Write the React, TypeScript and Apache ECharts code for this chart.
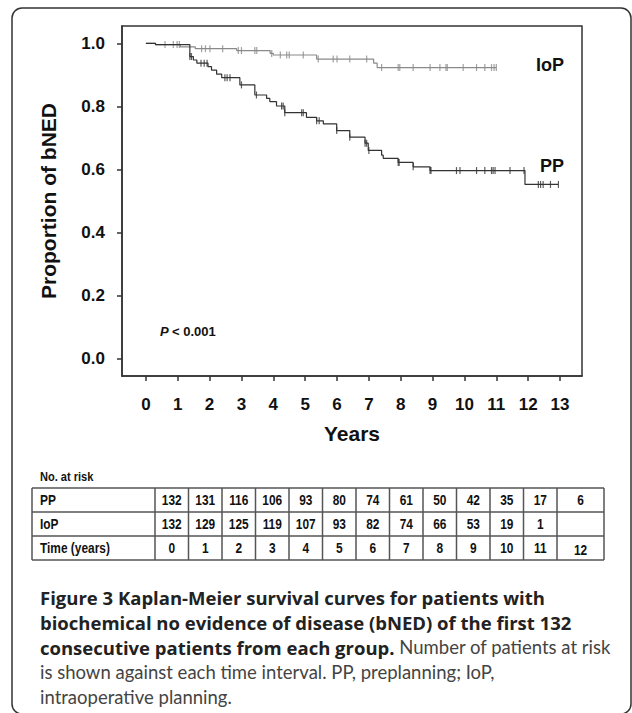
import React, { useEffect, useRef } from "react";
import * as echarts from "echarts";

// Kaplan-Meier step data: [time (years), proportion bNED]
const iopSteps: [number, number][] = [
  [0, 1.0], [0.3, 0.996], [1.08, 0.989], [1.55, 0.983], [2.85, 0.977],
  [3.9, 0.968], [4.0, 0.963], [5.36, 0.95], [7.15, 0.937], [7.26, 0.923], [11.0, 0.923],
];
const ppSteps: [number, number][] = [
  [0, 1.0], [0.3, 0.996], [1.38, 0.958], [1.49, 0.947], [1.6, 0.937], [1.95, 0.926],
  [2.06, 0.915], [2.22, 0.902], [2.38, 0.891], [2.95, 0.868], [3.42, 0.836], [3.79, 0.825],
  [3.89, 0.815], [4.1, 0.801], [4.36, 0.78], [5.04, 0.765], [5.36, 0.754], [5.57, 0.744],
  [5.99, 0.723], [6.4, 0.702], [6.88, 0.683], [6.98, 0.66], [7.4, 0.645], [7.45, 0.635],
  [7.92, 0.622], [8.39, 0.608], [8.92, 0.596], [11.9, 0.552], [12.95, 0.552],
];
// censored observation times
const iopCensor = [0.6, 0.86, 0.98, 1.05, 1.75, 1.87, 2.01, 2.41, 2.9, 3.0, 3.42, 3.48, 3.95, 4.22, 4.42, 4.5, 4.94, 5.41, 5.88, 6.0, 6.4, 6.93, 7.4, 7.92, 7.97, 8.39, 8.92, 9.23, 9.42, 9.46, 9.96, 10.38, 10.64, 10.85, 10.93, 11.0];
const ppCensor = [1.38, 1.43, 1.73, 1.83, 1.92, 2.48, 2.55, 2.64, 3.0, 3.47, 4.26, 4.31, 4.36, 4.89, 4.94, 5.36, 5.44, 5.99, 6.4, 6.88, 6.93, 7.0, 7.92, 7.95, 8.39, 8.92, 8.95, 9.75, 9.86, 10.38, 10.64, 10.85, 10.9, 10.96, 11.43, 11.87, 12.32, 12.39, 12.47, 12.7, 12.95];

const xTicks = [0, 1, 2, 3, 4, 5, 6, 7, 8, 9, 10, 11, 12, 13];
const yTicks = [0, 0.2, 0.4, 0.6, 0.8, 1.0];

// Number at risk table
const riskRowLabels = ["PP", "IoP", "Time (years)"];
const ppAtRisk = ["132", "131", "116", "106", "93", "80", "74", "61", "50", "42", "35", "17", "6"];
const iopAtRisk = ["132", "129", "125", "119", "107", "93", "82", "74", "66", "53", "19", "1", ""];
const timeYears = ["0", "1", "2", "3", "4", "5", "6", "7", "8", "9", "10", "11", "12"];

const captionLines = [
  [{ t: "Figure 3 Kaplan-Meier survival curves for patients with", b: true }],
  [{ t: "biochemical no evidence of disease (bNED) of the first 132", b: true }],
  [{ t: "consecutive patients from each group.", b: true }, { t: " Number of patients at risk", b: false }],
  [{ t: "is shown against each time interval. PP, preplanning; IoP,", b: false }],
  [{ t: "intraoperative planning.", b: false }],
];

const AR = '"Liberation Sans", Arial, sans-serif';
const CAPB = '"Open Sans", Lato, sans-serif';
const CAPR = 'Lato, "Open Sans", sans-serif';

function valueAt(steps: [number, number][], t: number): number {
  let v = steps[0][1];
  for (const [st, sv] of steps) {
    if (st <= t + 1e-9) v = sv;
  }
  return v;
}

export default function App() {
  const ref = useRef<HTMLDivElement>(null);
  useEffect(() => {
    if (!ref.current) return;
    const chart = echarts.init(ref.current, undefined, { renderer: "svg" });

    const graphics: any[] = [];
    // outer frame
    graphics.push({
      type: "rect", shape: { x: 12, y: 8, width: 619, height: 706, r: 10 },
      style: { fill: "none", stroke: "#333", lineWidth: 1.5 }, z: 0,
    });
    graphics.push({
      type: "text", x: 48, y: 201, rotation: Math.PI / 2,
      style: { text: "Proportion of bNED", font: `bold 21px ${AR}`, fill: "#111", textAlign: "center", textVerticalAlign: "middle" },
    });
    graphics.push({
      type: "text", x: 352, y: 433,
      style: { text: "Years", font: `bold 21px ${AR}`, fill: "#111", textAlign: "center", textVerticalAlign: "middle" },
    });
    graphics.push({
      type: "text", x: 536, y: 65,
      style: { text: "IoP", font: `bold 18px ${AR}`, fill: "#111", textAlign: "left", textVerticalAlign: "middle" },
    });
    graphics.push({
      type: "text", x: 540, y: 166,
      style: { text: "PP", font: `bold 18px ${AR}`, fill: "#111", textAlign: "left", textVerticalAlign: "middle" },
    });
    graphics.push({
      type: "text", x: 160, y: 331,
      style: {
        text: "{i|P} {n|< 0.001}",
        rich: {
          i: { font: `italic bold 13px ${AR}`, fill: "#111" },
          n: { font: `bold 13px ${AR}`, fill: "#111" },
        },
        textVerticalAlign: "middle",
      },
    });
    graphics.push({
      type: "text", x: 40, y: 477, scaleX: 0.85,
      style: { text: "No. at risk", font: `bold 13px ${AR}`, fill: "#111", textVerticalAlign: "middle" },
    });

    // table
    const tLeft = 32, tRight = 604, tTop = 488, rowH = 24;
    const firstColW = 123;
    const colW = 33.5;
    const colEdges: number[] = [tLeft, tLeft + firstColW];
    for (let i = 1; i <= 12; i++) colEdges.push(tLeft + firstColW + i * colW);
    colEdges.push(tRight);
    const rows = [ppAtRisk, iopAtRisk, timeYears];
    const tBottom = tTop + rowH * rows.length;
    const lineStyle = { stroke: "#555", lineWidth: 1.5 };
    for (let r = 0; r <= rows.length; r++) {
      graphics.push({ type: "line", shape: { x1: tLeft, y1: tTop + r * rowH, x2: tRight, y2: tTop + r * rowH }, style: lineStyle });
    }
    colEdges.forEach((x) => {
      graphics.push({ type: "line", shape: { x1: x, y1: tTop, x2: x, y2: tBottom }, style: lineStyle });
    });
    rows.forEach((vals, r) => {
      const cy = tTop + r * rowH + rowH / 2;
      graphics.push({
        type: "text", x: tLeft + 8, y: cy, scaleX: 0.85,
        style: { text: riskRowLabels[r], font: `bold 14px ${AR}`, fill: "#111", textVerticalAlign: "middle" },
      });
      vals.forEach((v, c) => {
        const cx = (colEdges[c + 1] + colEdges[c + 2]) / 2;
        graphics.push({
          type: "text", x: cx, y: cy + (r === 2 && c === 12 ? 2 : 0), scaleX: 0.85,
          style: { text: v, font: `bold 14px ${AR}`, fill: "#111", textAlign: "center", textVerticalAlign: "middle" },
        });
      });
    });

    // caption
    captionLines.forEach((parts, i) => {
      const text = parts.map((p) => `{${p.b ? "b" : "r"}|${p.t}}`).join("");
      graphics.push({
        type: "text", x: 40, y: 597 + i * 25,
        style: {
          text,
          rich: {
            b: { font: `bold 18.5px ${CAPB}`, fill: "#222" },
            r: { font: `18.5px ${CAPR}`, fill: "#444" },
          },
          textVerticalAlign: "middle",
        },
      });
    });

    const censorData = (steps: [number, number][], times: number[]) =>
      times.map((t) => [t, valueAt(steps, t)]);

    chart.setOption({
      animation: false,
      backgroundColor: "#fff",
      grid: {
        left: 122, top: 26, right: 50, bottom: 337,
        show: true, borderColor: "#333", borderWidth: 1.5, backgroundColor: "transparent",
      },
      xAxis: {
        type: "value", min: -0.75, max: 13.69,
        axisLine: { show: true, onZero: false, lineStyle: { color: "#333", width: 1.5 } },
        axisTick: { show: true, customValues: xTicks, length: 5, lineStyle: { color: "#333", width: 1.5 } },
        axisLabel: { customValues: xTicks, margin: 20, fontFamily: AR, fontWeight: "bold", fontSize: 17, color: "#111" },
        splitLine: { show: false },
      },
      yAxis: {
        type: "value", min: -0.056, max: 1.055,
        axisLine: { show: true, onZero: false, lineStyle: { color: "#333", width: 1.5 } },
        axisTick: { show: true, customValues: yTicks, length: 5, lineStyle: { color: "#333", width: 1.5 } },
        axisLabel: {
          customValues: yTicks, margin: 17, fontFamily: AR, fontWeight: "bold", fontSize: 17, color: "#111",
          formatter: (v: number) => v.toFixed(1),
        },
        splitLine: { show: false },
      },
      series: [
        {
          type: "line", name: "IoP", step: "end", data: iopSteps, showSymbol: false,
          lineStyle: { color: "#8a8a8a", width: 1.2 },
        },
        {
          type: "line", name: "PP", step: "end", data: ppSteps, showSymbol: false,
          lineStyle: { color: "#333", width: 1.2 },
        },
        {
          type: "scatter", data: censorData(iopSteps, iopCensor), symbol: "rect", symbolSize: [1.2, 7],
          itemStyle: { color: "#8a8a8a" },
        },
        {
          type: "scatter", data: censorData(ppSteps, ppCensor), symbol: "rect", symbolSize: [1.2, 7],
          itemStyle: { color: "#333" },
        },
      ],
      graphic: graphics,
    });
    return () => chart.dispose();
  }, []);
  return <div ref={ref} style={{ position: "fixed", left: 0, top: 0, width: 632, height: 713 }} />;
}
